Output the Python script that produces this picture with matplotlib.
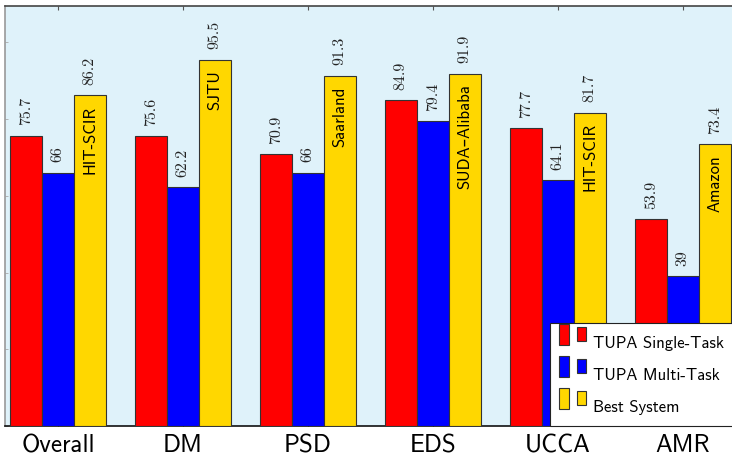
import matplotlib
matplotlib.use('Agg')
import matplotlib.pyplot as plt
import numpy as np
from matplotlib.patches import Rectangle, Patch

tasks = ['Overall', 'DM', 'PSD', 'EDS', 'UCCA', 'AMR']
single_task = [75.7, 75.6, 70.9, 84.9, 77.7, 53.9]
multi_task = [66, 62.2, 66, 79.4, 64.1, 39]
best_system = [86.2, 95.5, 91.3, 91.9, 81.7, 73.4]
best_names = ['HIT-SCIR', 'SJTU', 'Saarland', 'SUDA\u2013Alibaba', 'HIT-SCIR', 'Amazon']
series_names = ['TUPA Single-Task', 'TUPA Multi-Task', 'Best System']

red = '#ff0000'
blue = '#0000ff'
yellow = '#ffd700'
sans = ['cmss10', 'DejaVu Sans']
serif = ['cmr10', 'DejaVu Serif']


class TwoBars:
    # pgfplots style ybar legend image: two small bars
    def legend_artist(self, legend, orig_handle, fontsize, handlebox):
        x0, y0 = handlebox.xdescent, handlebox.ydescent
        w, h = handlebox.width, handlebox.height
        fc = orig_handle.get_facecolor()
        t = handlebox.get_transform()
        r1 = Rectangle((x0, y0 - 0.1 * h), w * 0.36, h, fc=fc, ec='#333333', lw=0.8, transform=t)
        r2 = Rectangle((x0 + w * 0.68, y0 + 0.1 * h), w * 0.32, h * 0.66,
                       fc=fc, ec='#333333', lw=0.8, transform=t)
        handlebox.add_artist(r1)
        handlebox.add_artist(r2)
        return r1


def fmt(v):
    return ('%g' % v)


fig = plt.figure(figsize=(7.32, 4.58), dpi=100)
ax = fig.add_axes([5 / 732, 32 / 458, 730 / 732, 420 / 458])
ax.set_facecolor('#dff2fa')

x = np.arange(len(tasks))
w = 0.256
b1 = ax.bar(x - w, single_task, w, color=red, edgecolor='#333333', linewidth=0.8, zorder=3)
b2 = ax.bar(x, multi_task, w, color=blue, edgecolor='#333333', linewidth=0.8, zorder=3)
b3 = ax.bar(x + w, best_system, w, color=yellow, edgecolor='#333333', linewidth=0.8, zorder=3)

for bars, vals in [(b1, single_task), (b2, multi_task), (b3, best_system)]:
    for rect, v in zip(bars, vals):
        ax.annotate(fmt(v), (rect.get_x() + rect.get_width() / 2, v),
                    xytext=(0, 7.5), textcoords='offset points', rotation=90,
                    ha='center', va='bottom', fontsize=11.5, family=serif,
                    color='#222222', zorder=4)

for rect, v, name in zip(b3, best_system, best_names):
    ax.annotate(name, (rect.get_x() + rect.get_width() / 2, v),
                xytext=(0, -7.5), textcoords='offset points', rotation=90,
                ha='center', va='top', fontsize=12, family=sans, zorder=4)

ax.set_xlim(-0.424, 5.416)
ax.set_ylim(0, 109.5)
ax.set_xticks(x)
ax.set_xticklabels(tasks, fontsize=18, family=sans)
ax.set_yticks([0, 20, 40, 60, 80, 100])
ax.set_yticklabels([])
ax.tick_params(axis='x', direction='in', top=True, length=3, pad=6, color='#555555')
ax.tick_params(axis='y', direction='in', length=2, width=0.6, color='#aaaaaa')
for s in ax.spines.values():
    s.set_color('#444444')
    s.set_linewidth(1.2)
ax.spines['left'].set_color('#999999')
ax.spines['bottom'].set_color('#111111')

# legend box runs past the right edge of the picture, as in the original
handles = [Patch(facecolor=c) for c in [red, blue, yellow]]
leg = ax.legend(handles, series_names, handler_map={Patch: TwoBars()},
                loc='lower left', bbox_to_anchor=(545 / 730, 0, 200 / 730, 0.3),
                mode='expand', borderaxespad=0,
                prop={'family': sans, 'size': 12}, handleheight=1.55,
                handlelength=1.6, handletextpad=0.45, labelspacing=0.66,
                borderpad=0.55, fancybox=False, framealpha=1, edgecolor='#222222')
leg.get_frame().set_linewidth(0.8)
leg.set_zorder(5)

fig.savefig('out.png', dpi=100)
